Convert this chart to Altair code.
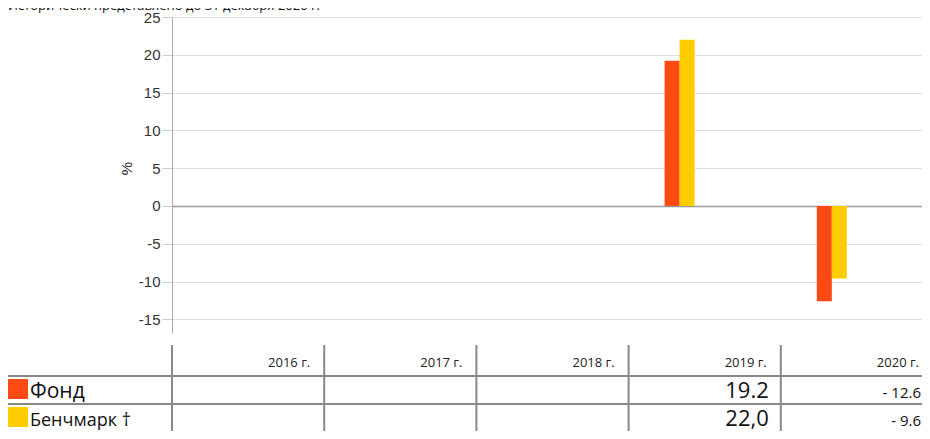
import altair as alt
import pandas as pd

# ---- data ----
years = ["2016 г.", "2017 г.", "2018 г.", "2019 г.", "2020 г."]
series = ["Фонд", "Бенчмарк †"]
fund_values = [None, None, None, 19.2, -12.6]
bench_values = [None, None, None, 22.0, -9.6]
fund_labels = ["", "", "", "19.2", "- 12.6"]
bench_labels = ["", "", "", "22,0", "- 9.6"]
y_ticks = [-15, -10, -5, 0, 5, 10, 15, 20, 25]
title_text = "Исторически представлено до 31 декабря 2020 г."

rows = []
for s, vals, labs in [(series[0], fund_values, fund_labels),
                      (series[1], bench_values, bench_labels)]:
    for yr, v, lab in zip(years, vals, labs):
        rows.append({"year": yr, "series": s, "value": v, "label": lab})
df = pd.DataFrame(rows)
df_bars = df.dropna(subset=["value"])
df_years = pd.DataFrame({"year": years})

FONT = "Open Sans"
PLOT_W = 750
STEP_SPAN = 761
xscale = alt.Scale(domain=years, range=[0, STEP_SPAN],
                   paddingInner=0, paddingOuter=0)
yscale = alt.Scale(domain=[-16.8, 25], nice=False, zero=False)
cscale = alt.Scale(domain=series, range=["#FC4A14", "#FFCC00"])


def xband(pos):
    return alt.X("year:N", scale=xscale, sort=years, axis=None, bandPosition=pos)


bars = alt.Chart(df_bars).mark_bar().encode(
    x=alt.X("year:N", scale=xscale, sort=years, axis=None),
    xOffset=alt.XOffset("series:N", sort=series,
                        scale=alt.Scale(domain=series, range=[36, 66],
                                        paddingInner=0, paddingOuter=0)),
    y=alt.Y("value:Q", scale=yscale, stack=None,
            axis=alt.Axis(values=y_ticks, tickCount=9, title="%",
                          titleX=-38, titleY=151,
                          titleFont="Liberation Sans", titleFontSize=15,
                          titleFontWeight="normal", titleColor="#222",
                          labelFont="Liberation Sans", labelFontSize=15,
                          labelColor="#333", labelPadding=2, tickSize=10,
                          labelOverlap=False,
                          labelExpr="toString(datum.value)",
                          tickColor="#ccc", domainColor="#aaa",
                          gridColor={"condition": {"test": "datum.value === 0",
                                                   "value": "#999"},
                                     "value": "#ddd"},
                          gridWidth={"condition": {"test": "datum.value === 0",
                                                   "value": 1.5},
                                     "value": 1})),
    color=alt.Color("series:N", scale=cscale, legend=None),
)

header = alt.Chart(df_years).mark_text(
    align="right", baseline="alphabetic", dx=-14, font=FONT, fontSize=13,
    color="#222").encode(x=xband(1), y=alt.value(350), text="year:N")

vlines = alt.Chart(df_years).mark_rule(color="#888", strokeWidth=2).encode(
    x=xband(0), y=alt.value(328), y2=alt.value(414))

layers = [bars, vlines, header]

row_tops = [359, 387]          # horizontal table lines (px below plot top)
row_baselines = [381, 409]
row_font = [21, 18]
for i, s in enumerate(series):
    one = pd.DataFrame({"series": [s]})
    layers.append(alt.Chart(one).mark_rule(color="#888", strokeWidth=2).encode(
        x=alt.value(-164), x2=alt.value(PLOT_W), y=alt.value(row_tops[i])))
    layers.append(alt.Chart(one).mark_rect().encode(
        x=alt.value(-164), x2=alt.value(-144),
        y=alt.value(row_tops[i] + 3), y2=alt.value(row_tops[i] + 23),
        color=alt.Color("series:N", scale=cscale, legend=None)))
    layers.append(alt.Chart(one).mark_text(
        align="left", baseline="alphabetic", font=FONT, fontSize=row_font[i],
        color="#111").encode(x=alt.value(-142), y=alt.value(row_baselines[i]),
                             text="series:N"))
    cells = df[(df["series"] == s) & (df["label"] != "")]
    layers.append(alt.Chart(cells).mark_text(
        align="right", baseline="alphabetic", dx=-12, font=FONT,
        color="#111").encode(
        x=xband(1), y=alt.value(row_baselines[i]),
        text="label:N",
        size=alt.condition("datum.value > 0", alt.value(22), alt.value(15))))

title = alt.Chart(pd.DataFrame({"t": [title_text]})).mark_text(
    align="left", baseline="alphabetic", font=FONT, fontSize=13,
    color="#111").encode(x=alt.value(-164), y=alt.value(-7), text="t:N")
layers.append(title)

chart = alt.layer(*layers).properties(
    width=PLOT_W, height=316,
    autosize=alt.AutoSizeParams(type="none"),
    padding={"left": 164, "top": 9, "right": 0, "bottom": 98},
).configure_view(stroke=None)

chart.save("out.html", embed_options={"renderer": "svg", "actions": False})
